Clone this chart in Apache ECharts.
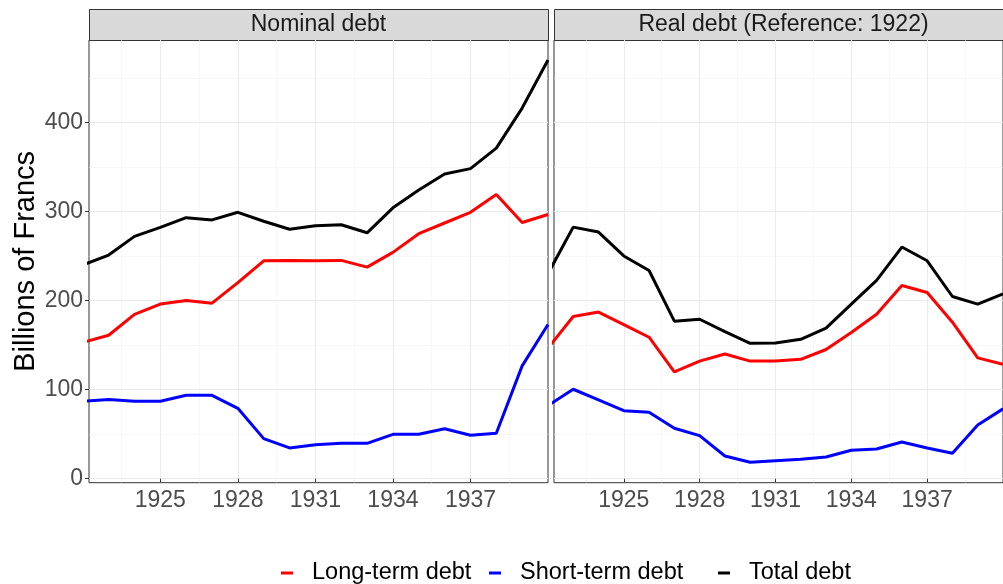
<!DOCTYPE html>
<html>
<head>
<meta charset="utf-8">
<script src="https://cdn.jsdelivr.net/npm/echarts@6/dist/echarts.min.js"></script>
<style>
  html, body { margin: 0; padding: 0; background: #fff; }
  #chart { width: 1003px; height: 584px; }
</style>
</head>
<body>
<div id="chart"></div>
<script>
  // data (billions of francs)
  const years = [1922, 1923, 1924, 1925, 1926, 1927, 1928, 1929, 1930, 1931, 1932, 1933, 1934, 1935, 1936, 1937, 1938, 1939, 1940]
  const nominalLong = [153, 161, 184.5, 196, 200, 197, 220, 244.5, 245, 244.5, 245, 237.5, 254, 275, 287, 299, 319, 287.5, 296.5]
  const nominalShort = [86.8, 89, 87, 87, 93.6, 93.6, 79, 45, 34.5, 38, 39.7, 39.7, 49.8, 49.8, 56, 48.7, 51, 126.6, 173]
  const nominalTotal = [240, 251, 272, 282, 293, 290.5, 299, 289, 280, 284, 285, 276, 304, 324, 342, 348, 371, 416, 470]
  const realLong = [146.5, 182, 187, 173, 158.8, 120, 132, 140, 132, 132.2, 134, 145, 164, 184.6, 216.9, 209, 175.7, 135.6, 128.5]
  const realShort = [82.1, 100.4, 88.4, 76.4, 74.5, 56.6, 48.3, 25.5, 18.4, 20.2, 21.7, 24.3, 32, 33.3, 41.2, 34.5, 28.5, 60.3, 78.4]
  const realTotal = [230, 282.4, 276.8, 250, 233.7, 176.8, 179, 165, 152, 152.4, 156.5, 169, 196, 222.5, 260, 244.6, 204.5, 196, 207.4]

  const xTicks = [1925, 1928, 1931, 1934, 1937]
  const xMinor = [1923.5, 1926.5, 1929.5, 1932.5, 1935.5, 1938.5]
  const yTicks = [0, 100, 200, 300, 400]
  const yMinor = [50, 150, 250, 350, 450]

  const seriesNames = ['Long-term debt', 'Short-term debt', 'Total debt']
  const colors = ['#FF0000', '#0000FF', '#000000']

  const font = '"Liberation Sans", Arial, sans-serif'
  const panelTop = 40
  const panelBottom = 101.3
  const panelW = 459
  const panels = [
    { left: 89, title: 'Nominal debt', data: [nominalLong, nominalShort, nominalTotal] },
    { left: 554, title: 'Real debt (Reference: 1922)', data: [realLong, realShort, realTotal] }
  ]

  let grids = [], xAxes = [], yAxes = [], series = [], graphics = []

  panels.forEach((p, i) => {
    grids.push({
      left: p.left, top: panelTop, width: panelW, bottom: panelBottom,
      show: true, backgroundColor: '#fff', borderColor: '#333333', borderWidth: 1
    })
    // main x axis
    xAxes.push({
      type: 'value', gridIndex: i, min: 1922.24, max: 1940,
      axisLine: { show: false },
      axisTick: { show: true, length: 4, lineStyle: { color: '#333333' }, customValues: xTicks },
      axisLabel: {
        customValues: xTicks, margin: 6, fontSize: 23, color: '#4D4D4D', fontFamily: font,
        formatter: v => String(v)
      },
      splitLine: { show: true, lineStyle: { color: '#EBEBEB', width: 1 } }
    })
    // minor grid x
    xAxes.push({
      type: 'value', gridIndex: i, min: 1922.24, max: 1940,
      axisLine: { show: false },
      axisTick: { show: false, customValues: xMinor },
      axisLabel: { show: false, customValues: xMinor },
      splitLine: { show: true, lineStyle: { color: '#F2F2F2', width: 0.6 } }
    })
    yAxes.push({
      type: 'value', gridIndex: i, min: -4.49, max: 492.4,
      axisLine: { show: false },
      axisTick: { show: i === 0, length: 4, lineStyle: { color: '#333333' }, customValues: yTicks },
      axisLabel: { show: i === 0, customValues: yTicks, margin: 6, fontSize: 23, color: '#4D4D4D', fontFamily: font },
      splitLine: { show: true, lineStyle: { color: '#EBEBEB', width: 1 } },
      name: i === 0 ? 'Billions of Francs' : '',
      nameLocation: 'middle', nameGap: 46,
      nameTextStyle: { fontSize: 29, color: '#000', fontFamily: font }
    })
    yAxes.push({
      type: 'value', gridIndex: i, min: -4.49, max: 492.4,
      axisLine: { show: false },
      axisTick: { show: false, customValues: yMinor },
      axisLabel: { show: false, customValues: yMinor },
      splitLine: { show: true, lineStyle: { color: '#F2F2F2', width: 0.6 } }
    })

    p.data.forEach((vals, k) => {
      series.push({
        name: seriesNames[k], type: 'line',
        xAxisIndex: 2 * i, yAxisIndex: 2 * i,
        data: years.map((y, j) => [y, vals[j]]),
        showSymbol: false, symbol: 'none', clip: true,
        lineStyle: { color: colors[k], width: 3 },
        itemStyle: { color: colors[k] },
        z: 3
      })
    })

    // facet strip
    graphics.push({
      type: 'rect', left: p.left, top: 9,
      shape: { width: panelW, height: panelTop - 9 },
      style: { fill: '#D9D9D9', stroke: '#333333', lineWidth: 1 }
    })
    graphics.push({
      type: 'text', x: p.left + panelW / 2, y: 9 + (panelTop - 9) / 2,
      style: { text: p.title, fontSize: 23, fontFamily: font, fill: '#1A1A1A', align: 'center', verticalAlign: 'middle' }
    })
  })

  // legend items placed like ggplot's horizontal legend
  const legendLefts = [281, 489, 718]
  const legends = seriesNames.map((n, k) => ({
    data: [n], left: legendLefts[k], top: 561, padding: 0,
    icon: 'rect', itemWidth: 12, itemHeight: 3,
    textStyle: { fontSize: 23.5, fontFamily: font, color: '#000', padding: [0, 0, 0, 14] },
    selectedMode: false
  }))

  const chart = echarts.init(document.getElementById('chart'))
  chart.setOption({
    animation: false,
    grid: grids,
    xAxis: xAxes,
    yAxis: yAxes,
    legend: legends,
    graphic: graphics,
    series: series
  })
</script>
</body>
</html>
